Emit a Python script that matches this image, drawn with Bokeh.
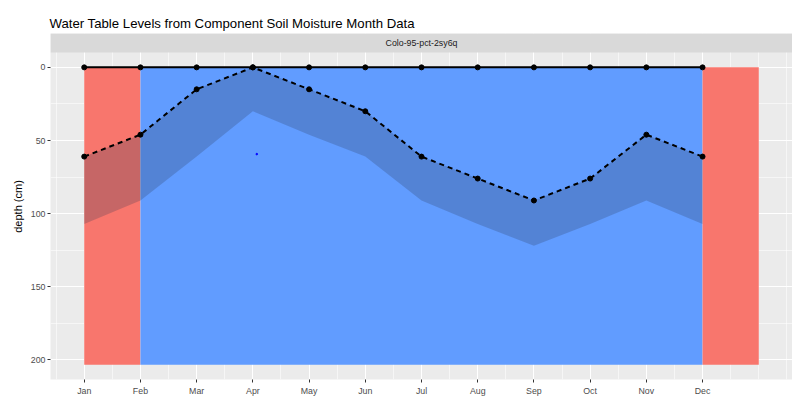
from bokeh.plotting import figure
from bokeh.models import Range1d, FixedTicker
from bokeh.embed import file_html
from bokeh.resources import INLINE
from bokeh.core.properties import value

# ---------------- data ----------------
months = ["Jan", "Feb", "Mar", "Apr", "May", "Jun", "Jul", "Aug", "Sep", "Oct", "Nov", "Dec"]
month_num = [1, 2, 3, 4, 5, 6, 7, 8, 9, 10, 11, 12]
wt_surface = [0, 0, 0, 0, 0, 0, 0, 0, 0, 0, 0, 0]                 # solid line (cm)
wt_top = [61, 46, 15, 0, 15, 30, 61, 76, 91, 76, 46, 61]            # dashed line (cm)
wt_bottom = [107, 91, 61, 30, 46, 61, 91, 107, 122, 107, 91, 107]   # lower edge of band (cm)
month_state = ["A", "B", "B", "B", "B", "B", "B", "B", "B", "B", "B", "A"]
state_colors = {"A": "#F8766D", "B": "#619CFF"}
rect_top_depth = 0
rect_bottom_depth = 203.2
stray_x = [4.07]
stray_y = [59.3]
y_ticks = [0, 50, 100, 150, 200]
y_minor = [-25, 25, 75, 125, 175, 225]
x_minor = [0, 0.5, 1.5, 2.5, 3.5, 4.5, 5.5, 6.5, 7.5, 8.5, 9.5, 10.5, 11.5, 12.5, 13, 13.5]

title_text = "Water Table Levels from Component Soil Moisture Month Data"
strip_text = "Colo-95-pct-2sy6q"
y_label = "depth (cm)"

FONT = "Liberation Sans"

# ---------------- layout numbers ----------------
FRAME_W = 742
FRAME_H = 346
STRIP_H = 19
x_lo, x_hi = 0.4, 13.6
y_bot = rect_bottom_depth * 1.05
y_top_data = -rect_bottom_depth * 0.05
ppu = (FRAME_H - STRIP_H) / (y_bot - y_top_data)
y_top = y_top_data - STRIP_H / ppu

p = figure(frame_width=FRAME_W, frame_height=FRAME_H,
           x_range=Range1d(x_lo, x_hi), y_range=Range1d(y_bot, y_top),
           output_backend="svg", toolbar_location=None,
           min_border_left=50, min_border_right=0, min_border_top=33, min_border_bottom=0)
p.background_fill_color = "#EBEBEB"
p.border_fill_color = "white"
p.outline_line_color = None

p.title.text = title_text
p.title.align = "left"
p.title.text_font = FONT
p.title.text_font_size = "13.2px"
p.title.text_font_style = "normal"
p.title.text_color = "black"
p.title.offset = -1
p.title.standoff = 6

# shaded monthly blocks (consecutive months with the same state merged)
runs = []
start = 0
for i in range(1, len(month_num) + 1):
    if i == len(month_num) or month_state[i] != month_state[start]:
        runs.append((month_num[start], month_num[i - 1] + 1, state_colors[month_state[start]]))
        start = i
p.quad(left=[r[0] for r in runs], right=[r[1] for r in runs],
       top=[rect_top_depth] * len(runs), bottom=[rect_bottom_depth] * len(runs),
       fill_color=[r[2] for r in runs], line_color=None)

p.varea(x=month_num, y1=wt_top, y2=wt_bottom, fill_color="#2B3550", fill_alpha=0.24)

p.line(month_num, wt_surface, line_color="black", line_width=2)
p.line(month_num, wt_top, line_color="black", line_width=2, line_dash="5 4")
p.scatter(month_num, wt_surface, size=5, color="black")
p.scatter(month_num, wt_top, size=5, color="black")
p.scatter(stray_x, stray_y, size=1.6, color="#0000FF")

# facet strip
p.quad(left=[x_lo], right=[x_hi], top=[y_top], bottom=[y_top_data],
       fill_color="#D9D9D9", line_color=None)
p.text(x=[(x_lo + x_hi) / 2], y=[(y_top + y_top_data) / 2], text=[strip_text],
       text_font=value(FONT), text_font_size="8.8px", text_color="#1A1A1A",
       text_align="center", text_baseline="middle")

p.xaxis.ticker = FixedTicker(ticks=month_num, minor_ticks=x_minor)
p.xaxis.major_label_overrides = {m: lab for m, lab in zip(month_num, months)}
p.yaxis.ticker = FixedTicker(ticks=y_ticks, minor_ticks=y_minor)

for ax in (p.xaxis[0], p.yaxis[0]):
    ax.axis_line_color = None
    ax.major_tick_line_color = "#333333"
    ax.major_tick_line_width = 1
    ax.major_tick_out = 3
    ax.major_tick_in = 0
    ax.minor_tick_line_color = None
    ax.major_label_text_font = FONT
    ax.major_label_text_font_size = "8.8px"
    ax.major_label_text_color = "#4D4D4D"
    ax.major_label_standoff = 2
p.yaxis.major_label_standoff = 1

p.yaxis.axis_label = y_label
p.yaxis.axis_label_text_font = FONT
p.yaxis.axis_label_text_font_size = "11px"
p.yaxis.axis_label_text_font_style = "normal"
p.yaxis.axis_label_text_color = "black"
p.yaxis.axis_label_standoff = 4

for g in (p.xgrid[0], p.ygrid[0]):
    g.grid_line_color = "white"
    g.grid_line_width = 1.1
    g.minor_grid_line_color = "white"
    g.minor_grid_line_width = 0.55

open("out.html", "w").write(file_html(p, INLINE))
